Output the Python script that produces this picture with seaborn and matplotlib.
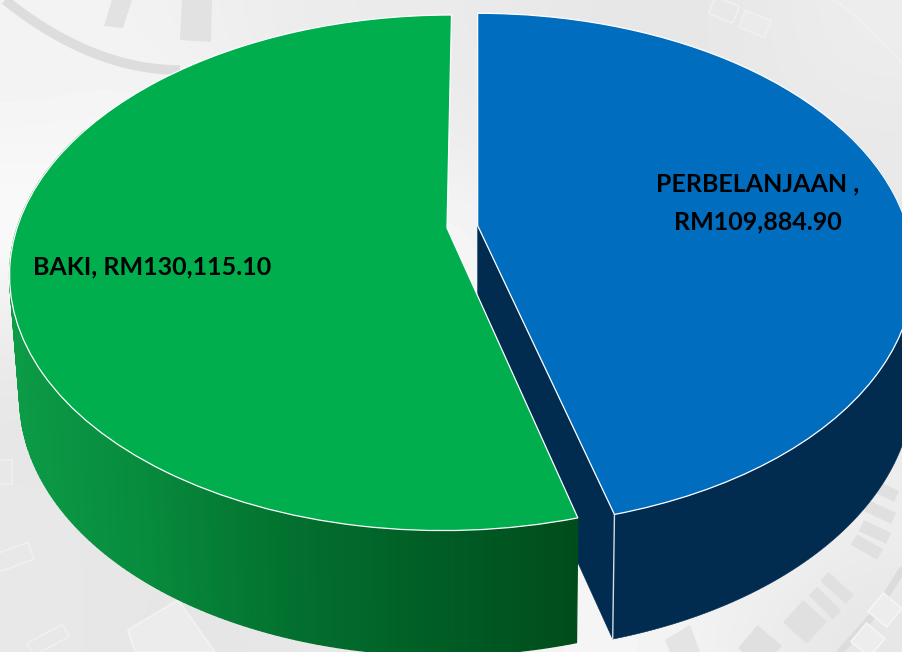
import numpy as np
import seaborn as sns
import matplotlib
matplotlib.use("Agg")
import matplotlib.pyplot as plt
from matplotlib.transforms import Transform, Affine2D
from matplotlib.patches import Rectangle, Polygon
from matplotlib.collections import PolyCollection
from matplotlib.colors import LinearSegmentedColormap

categories = ["PERBELANJAAN", "BAKI"]
values = [109884.90, 130115.10]
label_texts = ["PERBELANJAAN ,\nRM109,884.90", "BAKI, RM130,115.10"]
top_colors = ["#006DBF", "#00AE4E"]
wall_blue = "#012C50"
wall_green_stops = ["#0C9B47", "#078A3C", "#03702F", "#005E25", "#004D1C"]
explode = [0.072, 0.0]

W, H = 902, 652
CX, CY, SX, SY, K, SHEAR = 447.0, 228.0, 430.0, 250.0, 0.1737, 4.5


def project(x, y):
    d = 1 + K * y
    return CX + SX * x / d + SHEAR * y, CY - SY * y / d


def project_low(x, y):
    u, v = project(x, y)
    return CX + (u - CX) * 0.988 + 6 * (1 + y), v + 117 - 8 * y


class Persp(Transform):
    input_dims = output_dims = 2
    is_separable = False
    has_inverse = False

    def transform_non_affine(self, xy):
        xy = np.asarray(xy, float)
        u, v = project(xy[:, 0], xy[:, 1])
        return np.column_stack([u, v])


sns.set_theme(style="white")
fig = plt.figure(figsize=(W / 100, H / 100), dpi=100)
ax = fig.add_axes([0, 0, 1, 1])

# blurred technical backdrop
backdrop = np.array([
    [.95, .95, .93, .92, .92, .91, .90, .91, .93],
    [.96, .97, .95, .93, .93, .91, .90, .91, .91],
    [.99, .97, .95, .95, .98, .93, .91, .91, .91],
    [.93, .92, .93, .95, .97, .93, .91, .91, .91],
    [.90, .90, .91, .93, .95, .95, .93, .92, .91],
    [.91, .90, .92, .94, .97, .97, .96, .96, .94],
    [.91, .90, .90, .91, .93, .96, .96, .93, .90],
])
ax.imshow(backdrop, cmap="gray", vmin=0, vmax=1, extent=(0, W, H, 0),
          interpolation="bicubic", aspect="auto", zorder=0)

# top-left arc and spokes
t = np.linspace(0, 1, 40)
ax.plot(5 + 175 * t, 0 + 70 * (2 * t - t ** 2), color="#DDDDDD", lw=7, zorder=1, solid_capstyle="butt")
ax.add_patch(Polygon([[112, 0], [132, 0], [123, 28], [104, 26]], fc="#E2E2E2", ec="none", zorder=1))
ax.add_patch(Polygon([[182, 0], [212, 0], [211, 42], [180, 40]], fc="#E2E2E2", ec="none", zorder=1))


def tile(cx, cy, w, h, ang, fc, ec="none", lw=0):
    tr = Affine2D().rotate_deg(ang).translate(cx, cy) + ax.transData
    ax.add_patch(Rectangle((-w / 2, -h / 2), w, h, fc=fc, ec=ec, lw=lw, transform=tr, zorder=1))


# bottom-right ring and tiles
ax.plot([902, 876, 840], [570, 612, 652], color="#DCDCDC", lw=5, zorder=1)
for c, s, a in [((883, 490), (30, 12), 25), ((880, 512), (30, 12), 25),
                ((875, 532), (30, 12), 25), ((867, 547), (30, 12), 30),
                ((837, 588), (34, 12), 42), ((825, 603), (34, 12), 45),
                ((805, 622), (32, 30), 42), ((760, 647), (32, 30), 40)]:
    tile(c[0], c[1], s[0], s[1], a, "#E0E0E0")
tile(885, 610, 24, 24, -50, "#EDEDED", "#F5F5F5", 1.2)
tile(868, 640, 24, 24, -50, "#EDEDED", "#F5F5F5", 1.2)
ax.add_patch(Polygon([[665, 640], [690, 625], [700, 652], [670, 652]], fc="#E4E4E4", ec="none", zorder=1))
# top-right arc and tiles
t = np.linspace(0, 1, 30)
ax.plot(833 + 69 * t, 0 + 63 * t ** 1.2, color="#F0F0F0", lw=1.6, zorder=1)
tile(724, 10, 26, 18, 22, "#E8E8E8", "#F0F0F0", 1.2)
tile(755, 24, 28, 18, 22, "#EBEBEB", "#F0F0F0", 1.2)
# bottom-left tiles
for c, s, a in [((3, 472), (18, 24), 0), ((14, 557), (36, 18), -20), ((48, 640), (40, 14), -28)]:
    tile(c[0], c[1], s[0], s[1], a, "#E8E8E8", "#F0F0F0", 1.2)
ax.add_patch(Polygon([[128, 630], [178, 600], [215, 652], [135, 652]], fc="#ECECEC", ec="#F3F3F3", lw=1.2, zorder=1))

# top faces
wedges, _ = ax.pie(values, startangle=90, counterclock=False, colors=top_colors,
                   explode=explode, radius=1,
                   wedgeprops=dict(edgecolor="white", linewidth=0.9))
ax.set_aspect("auto")
ax.set_xlim(0, W)
ax.set_ylim(H, 0)
ax.axis("off")
persp = Persp()

frac = np.array(values) / np.sum(values)
sweep = 360 * frac
mid = np.radians(sweep[0] / 2)
dx = explode[0] * np.sin(mid)
dy = explode[0] * np.cos(mid)

# blue walls: only the part facing the viewer
th = np.radians(np.linspace(sweep[0] * 0.4, sweep[0], 200))
xb, yb = dx + np.sin(th), dy + np.cos(th)
u1, v1 = project(xb, yb)
u2, v2 = project_low(xb, yb)
ax.add_patch(Polygon(np.column_stack([np.r_[u1, u2[::-1]], np.r_[v1, v2[::-1]]]),
                     fc=wall_blue, ec=wall_blue, lw=0.4, zorder=2))
ua, va = project(dx, dy)
_, val = project_low(dx, dy)
ax.add_patch(Polygon([[ua, va], [u1[-1], v1[-1]], [u2[-1], v2[-1]], [ua, val]],
                     fc=wall_blue, ec=wall_blue, lw=0.4, zorder=2))
ax.plot([u1[-1], u2[-1]], [v1[-1], v2[-1]], color="#D5DCE2", lw=1.0, zorder=2.1)
wedges[0].set_transform(persp + ax.transData)
wedges[0].set_zorder(3)

# green wall with a horizontal shading: only the part facing the viewer
th = np.radians(np.linspace(sweep[0], 295, 160))
xg, yg = np.sin(th), np.cos(th)
u1, v1 = project(xg, yg)
u2, v2 = project_low(xg, yg)
cmap = LinearSegmentedColormap.from_list("wall", wall_green_stops)
quads, cols = [], []
umin, umax = 10, 578
for i in range(len(th) - 1):
    quads.append([[u1[i], v1[i]], [u1[i + 1], v1[i + 1]], [u2[i + 1], v2[i + 1]], [u2[i], v2[i]]])
    cols.append(cmap(np.clip((u1[i] - umin) / (umax - umin), 0, 1)))
ax.add_collection(PolyCollection(quads, facecolors=cols, edgecolors=cols, linewidths=0.9, zorder=4))
wedges[1].set_transform(persp + ax.transData)
wedges[1].set_zorder(5)

font = ["Lato", "DejaVu Sans"]
ax.text(758, 203, label_texts[0], ha="center", va="center", family=font, weight="bold",
        fontsize=18, color="black", linespacing=1.75, zorder=6)
ax.text(33, 267, label_texts[1], ha="left", va="center", family=font, weight="bold",
        fontsize=18, color="black", zorder=6)

fig.savefig("out.png", dpi=100)
